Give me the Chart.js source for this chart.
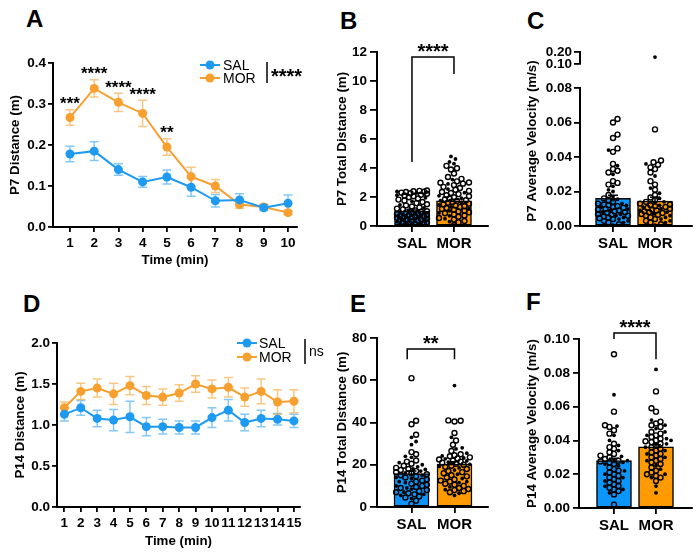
<!DOCTYPE html>
<html><head><meta charset="utf-8">
<script src="https://cdn.jsdelivr.net/npm/chart.js@4.4.1/dist/chart.umd.min.js"></script>
<style>
html,body{margin:0;padding:0;background:#fff;}
#wrap{position:relative;width:700px;height:558px;overflow:hidden;background:#fff;}
canvas{position:absolute;}
.lt{position:absolute;font:bold 24px 'Liberation Sans',Arial,sans-serif;color:#000;line-height:24px;}
</style></head><body>
<div id="wrap">
  <div class="lt" style="left:26px;top:7px">A</div>
  <div class="lt" style="left:340px;top:9px">B</div>
  <div class="lt" style="left:527px;top:9px">C</div>
  <div class="lt" style="left:23px;top:292px">D</div>
  <div class="lt" style="left:350px;top:292px">E</div>
  <div class="lt" style="left:526px;top:290px">F</div>
</div>
<script>
// ---------------- DATA ----------------
const groups = ['SAL', 'MOR'];

// Panel A: P7 distance per minute
const aTime = [1,2,3,4,5,6,7,8,9,10];
const aSalMean = [0.178,0.185,0.140,0.110,0.122,0.097,0.064,0.066,0.047,0.058];
const aSalSem  = [0.019,0.023,0.014,0.013,0.017,0.022,0.015,0.015,0.007,0.020];
const aMorMean = [0.267,0.338,0.304,0.277,0.195,0.123,0.100,0.055,0.049,0.035];
const aMorSem  = [0.019,0.021,0.022,0.032,0.020,0.023,0.016,0.009,0.007,0.005];
const aStarTime = [1,2,3,4,5];
const aStarText = ['***','****','****','****','**'];

// Panel D: P14 distance per minute
const dTime = [1,2,3,4,5,6,7,8,9,10,11,12,13,14,15];
const dSalMean = [1.13,1.21,1.08,1.06,1.10,0.98,0.98,0.97,0.97,1.09,1.18,1.03,1.08,1.07,1.05];
const dSalSem  = [0.08,0.09,0.10,0.13,0.19,0.11,0.09,0.08,0.08,0.12,0.13,0.10,0.10,0.07,0.08];
const dMorMean = [1.21,1.41,1.45,1.38,1.48,1.36,1.34,1.39,1.50,1.44,1.46,1.34,1.41,1.28,1.29];
const dMorSem  = [0.07,0.10,0.11,0.13,0.11,0.11,0.10,0.10,0.10,0.11,0.12,0.11,0.15,0.15,0.14];

// Panel B: P7 total distance (m)
const bMean = [1.03, 1.73];
const bSem  = [0.07, 0.10];
const bSalOpen = [2.45,2.42,2.40,2.37,2.34,2.30,2.26,2.22,2.16,2.10,2.05,1.98,1.90,1.82,1.75,1.66,1.58,1.50,1.42,1.35,1.28,1.20,1.15,1.08,1.02,0.98,0.94,0.90,0.86,0.82,0.78,0.74,0.70,0.67,0.64,0.60,0.57,0.54,0.50,0.47,0.44,0.40,0.36,0.32,0.28,0.24,0.20,0.16,0.12,0.08];
const bSalFilled = [2.38,2.28,2.12,1.95,1.70,1.45,1.25,1.10,0.96,0.88,0.80,0.72,0.66,0.58,0.52,0.46,0.38,0.30,0.22,0.14,0.06,0.03];
const bMorOpen = [4.15,3.98,3.90,3.62,3.38,3.25,3.08,3.00,2.98,2.92,2.82,2.70,2.62,2.50,2.42,2.35,2.28,2.20,2.12,2.05,1.98,1.90,1.84,1.78,1.72,1.66,1.60,1.54,1.48,1.42,1.36,1.30,1.24,1.18,1.12,1.06,1.00,0.94,0.88,0.80,0.72,0.64,0.55,0.45,0.35,0.25,0.05];
const bMorFilled = [4.80,4.62,4.42,4.30,3.20,2.90,2.55,2.30,2.08,1.92,1.75,1.62,1.45,1.32,1.20,1.05,0.90,0.70,0.50,0.30];

// Panel C: P7 average velocity (m/s)
const cMean = [0.0160, 0.0145];
const cSem  = [0.0018, 0.0022];
const cSalOpen = [0.062,0.060,0.053,0.051,0.045,0.043,0.036,0.033,0.032,0.031,0.026,0.025,0.024,0.018,0.016,0.015,0.014,0.013,0.0125,0.012,0.0115,0.011,0.0105,0.010,0.0095,0.009,0.0085,0.008,0.0075,0.007,0.0065,0.006,0.0055,0.005,0.0045,0.004,0.003,0.002,0.001];
const cSalFilled = [0.044,0.035,0.030,0.023,0.021,0.020,0.017,0.0155,0.013,0.012,0.011,0.0098,0.009,0.008,0.0068,0.006,0.005,0.004,0.003,0.002,0.0005];
const cMorOpen = [0.056,0.038,0.037,0.0355,0.034,0.033,0.031,0.026,0.024,0.021,0.018,0.0165,0.015,0.014,0.013,0.0125,0.012,0.0115,0.011,0.0105,0.010,0.0095,0.009,0.0085,0.008,0.0075,0.007,0.0065,0.006,0.005,0.004,0.003,0.002,0.001];
const cMorFilled = [0.157,0.036,0.029,0.022,0.019,0.016,0.014,0.012,0.011,0.010,0.009,0.008,0.007,0.006,0.005,0.004,0.003,0.002,0.0005];

// Panel E: P14 total distance (m)
const eMean = [15.8, 20.3];
const eSem  = [1.3, 1.1];
const eSalOpen = [61,40.8,39.2,34.2,26,25,22,21.5,20.5,19.5,18.5,18,17.5,17,16.5,16,15.5,15,14.5,14,13,12.5,12,11,10.5,10,9.5,9,8,7.5,7,6.5,6,5,4.5,3,1.5];
const eSalFilled = [33,31,29.5,24,23.5,21,20,19,18,17.8,17,16.2,15,14,13.5,12,11.5,10,9,8.5,7,6,5.5,4];
const eMorOpen = [41,40.8,40.5,35,31.5,29.5,26.5,25,24.5,24,23.5,23,22.5,22,21.5,21,20.5,20,19.5,19,18,17,16.5,16,15,14.5,14,13,12.5,12,11,10.5,10,9,8.5,8,7.5,7];
const eMorFilled = [57.5,33,28,27.5,25.5,24.2,23.2,22.8,21.8,21.2,20.2,19.2,18.5,17.5,15.5,13.5,12,11.5,9.5,8.2,6.5,5.5];

// Panel F: P14 average velocity (m/s)
const fMean = [0.0280, 0.0362];
const fSem  = [0.0015, 0.0012];
const fSalOpen = [0.091,0.057,0.049,0.048,0.046,0.044,0.038,0.036,0.035,0.033,0.032,0.031,0.030,0.029,0.028,0.0275,0.027,0.026,0.024,0.023,0.022,0.021,0.020,0.019,0.018,0.017,0.016,0.015,0.014,0.013,0.012,0.011,0.010,0.008,0.002];
const fSalFilled = [0.067,0.0485,0.043,0.040,0.037,0.034,0.0305,0.0285,0.028,0.027,0.026,0.025,0.022,0.020,0.018,0.016,0.013,0.011,0.009];
const fMorOpen = [0.069,0.059,0.057,0.051,0.050,0.049,0.048,0.045,0.044,0.043,0.042,0.041,0.040,0.0395,0.039,0.038,0.037,0.036,0.035,0.034,0.033,0.032,0.031,0.030,0.029,0.028,0.027,0.026,0.024,0.022,0.021,0.020,0.019,0.018,0.016];
const fMorFilled = [0.082,0.052,0.049,0.047,0.045,0.043,0.041,0.040,0.038,0.036,0.034,0.032,0.030,0.028,0.025,0.023,0.020,0.018,0.013,0.009];

// ---------------- STYLE ----------------
const FONT = "'Liberation Sans', Arial, Helvetica, sans-serif";
Chart.defaults.font.family = FONT;
Chart.defaults.color = '#000';
Chart.defaults.animation = false;
const SAL_LINE = '#1E9BF0', MOR_LINE = '#F7A030';
const SAL_ERR = 'rgba(30,155,240,0.55)', MOR_ERR = 'rgba(247,160,48,0.6)';
const SAL_BAR = '#0A96FA', MOR_BAR = '#FF9A00';
const TICKF = {size: 13.5, weight: 'bold'};
const TITLEF = {size: 13.3, weight: 'bold'};
const wrap = document.getElementById('wrap');

function mkCanvas(l, t, w, h) {
  const c = document.createElement('canvas');
  c.width = w; c.height = h;
  c.style.left = l + 'px'; c.style.top = t + 'px';
  c.style.width = w + 'px'; c.style.height = h + 'px';
  wrap.appendChild(c);
  return c;
}

function axisGrid(len) {
  return {display: true, drawOnChartArea: false, drawTicks: true, tickLength: len, color: '#000', lineWidth: 1.8};
}
const BORDER = {display: true, color: '#000', width: 2};

function stars(ctx, text, x, cy, size) {
  ctx.save();
  ctx.font = 'bold ' + size + 'px ' + FONT;
  ctx.fillStyle = '#000';
  ctx.textAlign = 'center';
  ctx.textBaseline = 'alphabetic';
  ctx.fillText(text, x, cy + size * 0.55);
  ctx.restore();
}

// ---------------- LINE PANELS ----------------
function makeLine(o) {
  const cv = mkCanvas(o.box[0], o.box[1], o.box[2], o.box[3]);
  const mk = (means, color, label) => ({
    type: 'line', label, data: o.x.map((t, i) => ({x: t, y: means[i]})),
    borderColor: color, backgroundColor: color, borderWidth: 2,
    pointRadius: 4.5, pointBorderWidth: 0, pointBackgroundColor: color, tension: 0
  });
  const errPlugin = {
    id: 'err_' + o.id,
    beforeDatasetsDraw(chart) {
      const {ctx, scales: {x, y}} = chart;
      ctx.save();
      ctx.lineWidth = 1.5;
      [[o.sal, o.salSem, SAL_ERR], [o.mor, o.morSem, MOR_ERR]].forEach(([m, s, col]) => {
        ctx.strokeStyle = col;
        o.x.forEach((t, i) => {
          const px = x.getPixelForValue(t);
          const y1 = y.getPixelForValue(m[i] + s[i]), y0 = y.getPixelForValue(m[i] - s[i]);
          ctx.beginPath();
          ctx.moveTo(px, y0); ctx.lineTo(px, y1);
          ctx.moveTo(px - 4.5, y1); ctx.lineTo(px + 4.5, y1);
          ctx.moveTo(px - 4.5, y0); ctx.lineTo(px + 4.5, y0);
          ctx.stroke();
        });
      });
      ctx.restore();
    },
    afterDatasetsDraw(chart) {
      const {ctx, scales: {x, y}} = chart;
      const ox = o.box[0], oy = o.box[1];
      // legend
      ctx.save();
      [['SAL', SAL_LINE, o.leg.y1], ['MOR', MOR_LINE, o.leg.y2]].forEach(([lab, col, ly]) => {
        ctx.strokeStyle = col; ctx.fillStyle = col; ctx.lineWidth = 2;
        ctx.beginPath(); ctx.moveTo(o.leg.x0 - ox, ly - oy); ctx.lineTo(o.leg.x1 - ox, ly - oy); ctx.stroke();
        ctx.beginPath(); ctx.arc((o.leg.x0 + o.leg.x1) / 2 - ox, ly - oy, 4.5, 0, Math.PI * 2); ctx.fill();
        ctx.fillStyle = '#000';
        ctx.font = '14px ' + FONT; ctx.textAlign = 'left'; ctx.textBaseline = 'middle';
        ctx.fillText(lab, o.leg.tx - ox, ly - oy + 1);
      });
      ctx.strokeStyle = '#000'; ctx.lineWidth = 1.5;
      ctx.beginPath(); ctx.moveTo(o.leg.bx - ox, o.leg.by0 - oy); ctx.lineTo(o.leg.bx - ox, o.leg.by1 - oy); ctx.stroke();
      ctx.restore();
      if (o.legSig === 'ns') {
        ctx.save(); ctx.font = '14px ' + FONT; ctx.fillStyle = '#000'; ctx.textAlign = 'left'; ctx.textBaseline = 'alphabetic';
        ctx.fillText('ns', o.leg.bx + 4 - ox, o.leg.sy - oy + 4); ctx.restore();
      } else {
        ctx.save(); ctx.font = 'bold 20px ' + FONT; ctx.fillStyle = '#000'; ctx.textAlign = 'left'; ctx.textBaseline = 'alphabetic';
        ctx.fillText(o.legSig, o.leg.bx + 4 - ox, o.leg.sy - oy + 11); ctx.restore();
      }
      // per-point significance
      if (o.starX) {
        o.starX.forEach((t, k) => {
          const i = o.x.indexOf(t);
          const top = y.getPixelForValue(o.mor[i] + o.morSem[i]);
          stars(ctx, o.starT[k], x.getPixelForValue(t), top - 10, 17);
        });
      }
    }
  };
  new Chart(cv, {
    type: 'scatter',
    data: {datasets: [mk(o.sal, SAL_LINE, 'SAL'), mk(o.mor, MOR_LINE, 'MOR')]},
    options: {
      responsive: false, animation: false, devicePixelRatio: 1,
      layout: {padding: o.pad},
      plugins: {legend: {display: false}, tooltip: {enabled: false}},
      scales: {
        x: {
          type: 'linear', min: o.xMin, max: o.xMax, offset: false,
          afterBuildTicks: s => { s.ticks = o.x.map(v => ({value: v})); },
          ticks: {font: TICKF, padding: 3, maxRotation: 0, autoSkip: false, callback: v => String(v)},
          grid: axisGrid(5), border: BORDER,
          title: {display: true, text: 'Time (min)', font: TITLEF, padding: {top: 0, bottom: o.xtPad}},
          afterFit: s => { s.height = o.H; }
        },
        y: {
          type: 'linear', min: o.yMin, max: o.yMax,
          ticks: {font: TICKF, padding: 2, stepSize: o.step, autoSkip: false, callback: v => Number(v).toFixed(1)},
          grid: axisGrid(5), border: BORDER,
          title: {display: true, text: o.yTitle, font: TITLEF, padding: {top: o.ytPad, bottom: 0}},
          afterFit: s => { s.width = o.W; }
        }
      }
    },
    plugins: [errPlugin]
  });
}

// ---------------- BAR + DOT PANELS ----------------
function swarm(points, center, pxY, pxX, diam, maxOff) {
  const order = points.map((p, i) => i).sort((a, b) => points[a].v - points[b].v);
  const placed = [];
  const step = 1.5;
  const nMax = Math.floor(maxOff / step);
  order.forEach((idx, j) => {
    const py = points[idx].v * pxY;
    let best = 0, bestScore = -1, done = false;
    for (let k = 0; k <= nMax && !done; k++) {
      const cands = k === 0 ? [0] : (j % 2 ? [k * step, -k * step] : [-k * step, k * step]);
      for (const ox of cands) {
        let minD = Infinity;
        for (const q of placed) {
          if (Math.abs(q.py - py) < diam) {
            const d = Math.hypot(q.ox - ox, q.py - py);
            if (d < minD) minD = d;
          }
        }
        if (minD >= diam) { best = ox; done = true; break; }
        if (minD > bestScore) { bestScore = minD; best = ox; }
      }
    }
    placed.push({ox: best, py});
    points[idx].x = center + best / pxX;
  });
  return points;
}

function dotSets(lists, pxY, range) {
  const open = [], filled = [];
  lists.forEach(([o, f], g) => {
    const pts = o.map(v => ({v, k: 'o'})).concat(f.map(v => ({v, k: 'f'})));
    swarm(pts, g, pxY, 42, 4.8, 16);
    pts.forEach(p => {
      if (p.v < range[0] || p.v > range[1]) return;
      (p.k === 'o' ? open : filled).push({x: p.x, y: p.v});
    });
  });
  return [
    {type: 'scatter', data: open, pointRadius: 2.5, pointBorderWidth: 1.4, pointBorderColor: '#000',
     pointBackgroundColor: 'rgba(255,255,255,0)', order: 1},
    {type: 'scatter', data: filled, pointRadius: 1.9, pointBorderWidth: 0, pointBackgroundColor: '#000', order: 1}
  ];
}

function makeBar(o) {
  const cv = mkCanvas(o.box[0], o.box[1], o.box[2], o.box[3]);
  const datasets = dotSets(o.dots, o.pxY, [o.yMin, o.yMax]);
  if (o.means) {
    datasets.push({
      type: 'bar', data: o.means.map((m, i) => ({x: i, y: m})),
      backgroundColor: [SAL_BAR, MOR_BAR], borderColor: '#000', borderWidth: 1.5,
      barThickness: 35, borderSkipped: false, order: 3
    });
  }
  const plug = {
    id: 'deco_' + o.id,
    afterDatasetsDraw(chart) {
      const {ctx, scales: {x, y}} = chart;
      ctx.save();
      ctx.strokeStyle = '#000'; ctx.lineWidth = 1.5;
      if (o.means) {
        o.means.forEach((m, i) => {
          const px = x.getPixelForValue(i);
          const y1 = y.getPixelForValue(m + o.sems[i]), y0 = y.getPixelForValue(m - o.sems[i]);
          ctx.beginPath();
          ctx.moveTo(px, y0); ctx.lineTo(px, y1);
          ctx.moveTo(px - 5, y1); ctx.lineTo(px + 5, y1);
          ctx.stroke();
        });
      }
      if (o.br) {
        const b = o.br;
        const xl = x.getPixelForValue(b.x0), xr = x.getPixelForValue(b.x1);
        const yt = y.getPixelForValue(b.top);
        ctx.beginPath();
        ctx.moveTo(xl, y.getPixelForValue(b.l)); ctx.lineTo(xl, yt);
        ctx.lineTo(xr, yt); ctx.lineTo(xr, y.getPixelForValue(b.r));
        ctx.stroke();
        stars(ctx, b.text, (xl + xr) / 2, yt - b.gap, 20);
      }
      if (o.extraTitle) {
        const t = o.extraTitle;
        ctx.save();
        ctx.font = 'bold 13.3px ' + FONT; ctx.fillStyle = '#000';
        ctx.textAlign = 'center'; ctx.textBaseline = 'middle';
        ctx.translate(t.x - o.box[0], t.y - o.box[1]); ctx.rotate(-Math.PI / 2);
        ctx.fillText(t.text, 0, 0);
        ctx.restore();
      }
      ctx.restore();
    }
  };
  new Chart(cv, {
    type: 'scatter',
    data: {datasets},
    options: {
      responsive: false, animation: false, devicePixelRatio: 1,
      layout: {padding: o.pad},
      plugins: {legend: {display: false}, tooltip: {enabled: false}},
      scales: {
        x: {
          type: 'linear', min: o.xMin, max: o.xMax, offset: false, display: o.showX !== false,
          afterBuildTicks: s => { s.ticks = groups.map((g, i) => ({value: i})); },
          ticks: {font: {size: 15, weight: 'bold'}, padding: 3, maxRotation: 0, autoSkip: false, callback: v => groups[v]},
          grid: Object.assign(axisGrid(6), {offset: false}), border: BORDER,
          afterFit: s => { s.height = o.H; }
        },
        y: {
          type: 'linear', min: o.yMin, max: o.yMax,
          afterBuildTicks: o.yTicks ? (s => { s.ticks = o.yTicks.map(v => ({value: v})); }) : undefined,
          ticks: {font: TICKF, padding: o.tPad, stepSize: o.step, autoSkip: false, callback: v => Number(v).toFixed(o.dec)},
          grid: axisGrid(o.tLen), border: BORDER,
          title: {display: !!o.yTitle, text: o.yTitle || '', font: TITLEF, padding: {top: o.ytPad, bottom: 0}},
          afterFit: s => { s.width = o.W; }
        }
      }
    },
    plugins: [plug]
  });
}

// ---------------- BUILD ----------------
// A: chart area L=53 T=63 R=297 B=227
makeLine({
  id: 'A', box: [2, 51, 307, 222], W: 51, H: 46, pad: {top: 12, right: 12, bottom: 0, left: 0},
  x: aTime, xMin: 0.30, xMax: 10.37, yMin: 0, yMax: 0.4, step: 0.1,
  sal: aSalMean, salSem: aSalSem, mor: aMorMean, morSem: aMorSem,
  yTitle: 'P7 Distance (m)', ytPad: 5, xtPad: 5,
  leg: {x0: 200, x1: 220, tx: 223, y1: 65, y2: 78, bx: 267, by0: 62, by1: 83, sy: 72},
  legSig: '****', starX: aStarTime, starT: aStarText
});
// D: chart area L=57 T=343 R=300 B=507
makeLine({
  id: 'D', box: [2, 331, 326, 222], W: 55, H: 46, pad: {top: 12, right: 28, bottom: 0, left: 0},
  x: dTime, xMin: 0.55, xMax: 15.37, yMin: 0, yMax: 2.0, step: 0.5,
  sal: dSalMean, salSem: dSalSem, mor: dMorMean, morSem: dMorSem,
  yTitle: 'P14 Distance (m)', ytPad: 10, xtPad: 3.5,
  leg: {x0: 237, x1: 257, tx: 259, y1: 343, y2: 357, bx: 305, by0: 339, by1: 364, sy: 352},
  legSig: 'ns'
});
// B: chart area L=377 T=52 R=488 B=226
makeBar({
  id: 'B', box: [332, 36, 166, 220], W: 45, H: 30, pad: {top: 16, right: 10, bottom: 0, left: 0},
  xMin: -0.833, xMax: 1.81, yMin: 0, yMax: 12, step: 2, dec: 0, tLen: 7, tPad: 3,
  pxY: 174 / 12, means: bMean, sems: bSem,
  dots: [[bSalOpen, bSalFilled], [bMorOpen, bMorFilled]],
  yTitle: 'P7 Total Distance (m)', ytPad: 2,
  br: {x0: 0, x1: 1, top: 11.66, l: 4.41, r: 10.48, text: '****', gap: 10}
});
// C upper segment: chart area L=580 T=52 R=692 B=66
makeBar({
  id: 'Ctop', box: [520, 40, 180, 34], W: 60, H: 0, pad: {top: 12, right: 8, bottom: 8, left: 0},
  xMin: -0.786, xMax: 1.881, yMin: 0.10, yMax: 0.20, yTicks: [0.10, 0.20], dec: 2, tLen: 6, tPad: 2,
  pxY: 14 / 0.1, showX: false,
  dots: [[cSalOpen, cSalFilled], [cMorOpen, cMorFilled]]
});
// C lower segment: chart area L=580 T=88 R=692 B=226
makeBar({
  id: 'C', box: [520, 40, 180, 216], W: 60, H: 30, pad: {top: 48, right: 8, bottom: 0, left: 0},
  xMin: -0.786, xMax: 1.881, yMin: 0, yMax: 0.08, step: 0.02, dec: 2, tLen: 6, tPad: 2,
  pxY: 138 / 0.08, means: cMean, sems: cSem,
  dots: [[cSalOpen, cSalFilled], [cMorOpen, cMorFilled]],
  extraTitle: {text: 'P7 Average Velocity (m/s)', x: 532, y: 141}
});
// E: chart area L=377 T=338 R=488 B=507
makeBar({
  id: 'E', box: [332, 322, 166, 215], W: 45, H: 30, pad: {top: 16, right: 10, bottom: 0, left: 0},
  xMin: -0.802, xMax: 1.779, yMin: 0, yMax: 80, step: 20, dec: 0, tLen: 7, tPad: 3,
  pxY: 169 / 80, means: eMean, sems: eSem,
  dots: [[eSalOpen, eSalFilled], [eMorOpen, eMorFilled]],
  yTitle: 'P14 Total Distance (m)', ytPad: 2,
  br: {x0: -0.1, x1: 1, top: 74.8, l: 70, r: 70, text: '**', gap: 10}
});
// F: chart area L=579 T=339 R=692 B=508
makeBar({
  id: 'F', box: [520, 309, 180, 229], W: 59, H: 30, pad: {top: 30, right: 8, bottom: 0, left: 0},
  xMin: -0.833, xMax: 1.857, yMin: 0, yMax: 0.10, step: 0.02, dec: 2, tLen: 6, tPad: 3,
  pxY: 169 / 0.1, means: fMean, sems: fSem,
  dots: [[fSalOpen, fSalFilled], [fMorOpen, fMorFilled]],
  yTitle: 'P14 Average Velocity (m/s)', ytPad: 4,
  br: {x0: 0, x1: 1, top: 0.1036, l: 0.100, r: 0.088, text: '****', gap: 10}
});
</script>
</body></html>
